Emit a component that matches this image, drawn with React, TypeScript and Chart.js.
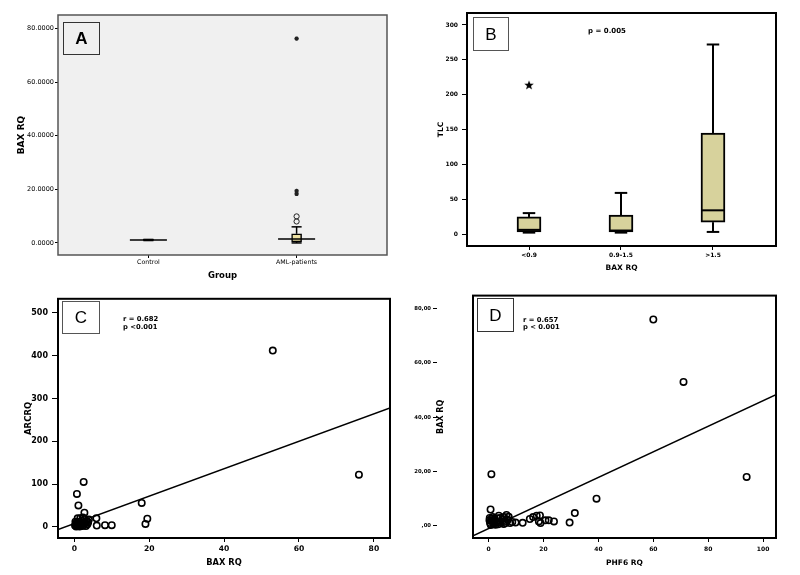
import React, { useEffect, useRef } from 'react';
import { Chart, registerables } from 'chart.js';

Chart.register(...registerables);

const FAMILY = "'DejaVu Sans', 'Liberation Sans', sans-serif";
const LETTER_FAMILY = "'Liberation Sans', Arial, sans-serif";

// ---------- Panel A: BAX RQ by group ----------
const groupLabels = ['Control', 'AML-patients'];
const groupLow = [0.9, 0.0];
const groupQ1 = [1.0, 0.4];
const groupMedian = [1.1, 1.5];
const groupQ3 = [1.3, 3.4];
const groupHigh = [1.3, 6.0];
const groupCircleOutliers: number[][] = [[], [8.0, 9.9]];
const groupStarOutliers: number[][] = [[], [18.3, 19.4, 76.2]];
const groupYTicks = [0, 20, 40, 60, 80];

// ---------- Panel B: TLC by BAX RQ class ----------
const tlcGroups = ['<0.9', '0.9-1.5', '>1.5'];
const tlcLow = [2, 2, 3];
const tlcQ1 = [3, 3, 17];
const tlcMedian = [6, 5, 34];
const tlcQ3 = [24.5, 27, 145];
const tlcHigh = [30, 59, 272];
const tlcStarOutliers: number[][] = [[214], [], []];
const tlcYTicks = [0, 50, 100, 150, 200, 250, 300];

// ---------- Panel C: ARC RQ vs BAX RQ ----------
const arcBaxRq = [53, 76, 18, 19, 19.5, 5.9, 6.0, 8.2, 10, 2.5, 0.7, 1.1, 2.7, 0.9, 0.2, 0.4, 0.5, 0.6, 0.8, 1.0, 1.1, 1.3, 1.4, 1.5, 1.7, 1.9, 2.0, 2.2, 2.4, 2.6, 2.8, 3.0, 3.1, 3.3, 3.5, 3.7, 1.6, 2.3, 0.3, 3.9];
const arcRq = [412, 122, 56, 7, 19, 20, 3, 4, 4, 105, 77, 50, 33, 20, 3, 6, 1, 10, 4, 2, 8, 5, 1, 12, 3, 7, 15, 2, 10, 5, 18, 9, 2, 14, 6, 11, 20, 22, 12, 17];
const arcFitX = [-4.35, 84.3];
const arcFitY = [-6, 278];
const arcXTicks = [0, 20, 40, 60, 80];
const arcYTicks = [0, 100, 200, 300, 400, 500];

// ---------- Panel D: BAX RQ vs PHF6 RQ ----------
const phf6Rq = [60, 71, 94, 1.0, 39.3, 31.4, 29.5, 0.7, 15, 16.2, 17.5, 18.7, 18.3, 18.9, 20.7, 21.9, 23.8, 12.4, 0.5, 1.0, 1.5, 1.9, 2.5, 3.2, 3.7, 4.4, 5.0, 5.6, 6.2, 6.5, 7.0, 7.8, 8.6, 9.8, 0.3, 0.8, 1.2, 2.2, 2.8, 3.5, 4.2, 5.5, 6.0, 7.3, 0.4, 1.6];
const phf6BaxRq = [76, 53, 18, 19, 10, 4.7, 1.2, 6, 2.5, 3.2, 3.7, 3.8, 1.6, 1.0, 2.0, 2.0, 1.6, 1.1, 1.0, 2.5, 3.2, 1.6, 0.4, 2.8, 3.7, 1.2, 2.5, 3.2, 1.0, 4.0, 2.2, 1.0, 1.4, 1.2, 2.0, 0.3, 1.8, 2.6, 1.2, 0.6, 2.9, 0.7, 1.8, 3.3, 2.9, 0.8];
const phf6FitX = [-5.7, 104.7];
const phf6FitY = [-3.7, 48.3];
const phf6XTicks = [0, 20, 40, 60, 80, 100];
const phf6YTicks = [0, 20, 40, 60, 80];

// ---------- helpers ----------
type Note = { text: string; x: number; y: number; align: CanvasTextAlign; font: string };

function makeStarImage(size: number) {
  const c = document.createElement('canvas');
  c.width = size;
  c.height = size;
  const ctx = c.getContext('2d') as CanvasRenderingContext2D;
  const cx = size / 2, cy = size / 2 + 0.4, R = size / 2, r = R * 0.42;
  ctx.beginPath();
  for (let k = 0; k < 10; k++) {
    const ang = -Math.PI / 2 + (k * Math.PI) / 5;
    const rr = k % 2 === 0 ? R : r;
    const px = cx + rr * Math.cos(ang), py = cy + rr * Math.sin(ang);
    if (k === 0) ctx.moveTo(px, py); else ctx.lineTo(px, py);
  }
  ctx.closePath();
  ctx.fillStyle = '#000';
  ctx.fill();
  return c;
}

function decorPlugin(o: {
  bg: string | null;
  frameColor: string;
  frameWidth: number;
  box: [number, number, number, number];
  boxColor: string;
  letter: string;
  letterFont: string;
  notes: Note[];
}) {
  return {
    id: 'decor',
    beforeDraw(chart: any) {
      if (!o.bg) return;
      const { ctx, chartArea: a } = chart;
      ctx.save();
      ctx.fillStyle = o.bg;
      ctx.fillRect(a.left, a.top, a.right - a.left, a.bottom - a.top);
      ctx.restore();
    },
    afterDraw(chart: any) {
      const { ctx, chartArea: a } = chart;
      ctx.save();
      ctx.strokeStyle = o.frameColor;
      ctx.lineWidth = o.frameWidth;
      ctx.strokeRect(a.left, a.top, a.right - a.left, a.bottom - a.top);
      const [bx, by, bw, bh] = o.box;
      ctx.lineWidth = 1;
      ctx.strokeStyle = o.boxColor;
      ctx.strokeRect(bx + 0.5, by + 0.5, bw, bh);
      ctx.fillStyle = '#000';
      ctx.font = o.letterFont;
      ctx.textAlign = 'center';
      ctx.textBaseline = 'middle';
      ctx.fillText(o.letter, bx + bw / 2 + 0.5, by + bh / 2 + 1.5);
      for (const n of o.notes) {
        ctx.font = n.font;
        ctx.textAlign = n.align;
        ctx.fillText(n.text, n.x, n.y);
      }
      ctx.restore();
    },
  };
}

function linAxis(p: {
  pos: 'left' | 'bottom';
  min: number;
  max: number;
  ticks: number[];
  fmt: (v: number) => string;
  size: number;
  tickFont: any;
  tickLen: number;
  pad: number;
  title?: string;
  titleFont?: any;
  titlePad?: any;
  weight?: number;
}) {
  return {
    type: 'linear',
    position: p.pos,
    min: p.min,
    max: p.max,
    offset: false,
    weight: p.weight ?? 0,
    afterFit: (s: any) => {
      if (p.pos === 'left') s.width = p.size;
      else s.height = p.size;
    },
    afterBuildTicks: (s: any) => {
      s.ticks = p.ticks.map((v) => ({ value: v }));
    },
    ticks: {
      callback: (v: any) => p.fmt(Number(v)),
      font: p.tickFont,
      color: '#000',
      padding: p.pad,
      autoSkip: false,
      maxRotation: 0,
      minRotation: 0,
    },
    grid: {
      display: true,
      drawOnChartArea: false,
      drawTicks: true,
      tickLength: p.tickLen,
      color: '#000',
      tickColor: '#000',
      offset: false,
    },
    border: { display: false },
    title: p.title
      ? { display: true, text: p.title, font: p.titleFont, color: '#000', padding: p.titlePad }
      : { display: false },
  };
}

function boxDatasets(
  lo: number[], q1: number[], med: number[], q3: number[], hi: number[],
  s: { boxPx: number; medHalf: number; capHalf: number; fill: string; lw: number }
) {
  const seg = (a: { x: number; y: number }, b: { x: number; y: number }) => ({
    type: 'scatter',
    showLine: true,
    data: [a, b],
    borderColor: '#000',
    backgroundColor: '#000',
    borderWidth: s.lw,
    pointRadius: 0,
    order: 1,
    yAxisID: 'y',
    xAxisID: 'x',
  });
  const ds: any[] = [
    {
      type: 'bar',
      data: q1.map((v, i) => ({ x: i, y: [v, q3[i]] })),
      backgroundColor: s.fill,
      borderColor: '#000',
      borderWidth: s.lw,
      borderSkipped: false,
      barThickness: s.boxPx,
      order: 3,
      yAxisID: 'y',
      xAxisID: 'x',
    },
  ];
  q1.forEach((_, i) => {
    ds.push(seg({ x: i, y: lo[i] }, { x: i, y: q1[i] }));
    ds.push(seg({ x: i, y: q3[i] }, { x: i, y: hi[i] }));
    ds.push(seg({ x: i - s.capHalf, y: lo[i] }, { x: i + s.capHalf, y: lo[i] }));
    ds.push(seg({ x: i - s.capHalf, y: hi[i] }, { x: i + s.capHalf, y: hi[i] }));
    ds.push(seg({ x: i - s.medHalf, y: med[i] }, { x: i + s.medHalf, y: med[i] }));
  });
  return ds;
}

function outlierDataset(groups: number[][], style: any, radius: number, lw: number, color = '#000') {
  const data: { x: number; y: number }[] = [];
  groups.forEach((vals, i) => vals.forEach((v) => data.push({ x: i, y: v })));
  return {
    type: 'scatter',
    data,
    pointStyle: style,
    pointRadius: radius,
    borderWidth: lw,
    borderColor: color,
    backgroundColor: 'rgba(0,0,0,0)',
    order: 0,
    yAxisID: 'y',
    xAxisID: 'x',
  };
}

function scatterDataset(xs: number[], ys: number[]) {
  return {
    type: 'scatter',
    data: xs.map((x, i) => ({ x, y: ys[i] })),
    pointStyle: 'circle',
    pointRadius: 3.2,
    borderWidth: 1.6,
    borderColor: '#000',
    backgroundColor: 'rgba(0,0,0,0)',
    order: 0,
    yAxisID: 'y',
    xAxisID: 'x',
  };
}

function fitDataset(xs: number[], ys: number[]) {
  return {
    type: 'scatter',
    showLine: true,
    data: xs.map((x, i) => ({ x, y: ys[i] })),
    borderColor: '#000',
    backgroundColor: '#000',
    borderWidth: 1.5,
    pointRadius: 0,
    order: 1,
    yAxisID: 'y',
    xAxisID: 'x',
  };
}

const baseOptions = (padding: any) => ({
  responsive: false,
  animation: false,
  devicePixelRatio: 1,
  events: [],
  layout: { padding },
  plugins: { legend: { display: false }, tooltip: { enabled: false }, title: { display: false } },
});

const font = (size: number, weight: string = 'normal', lineHeight = 1.2) => ({ family: FAMILY, size, weight, lineHeight });

// ---------- configs ----------
function configA() {
  return {
    type: 'scatter',
    data: {
      datasets: [
        ...boxDatasets(groupLow, groupQ1, groupMedian, groupQ3, groupHigh, {
          boxPx: 10, medHalf: 0.125, capHalf: 0.034, fill: '#ece0a2', lw: 1.5,
        }),
        outlierDataset(groupCircleOutliers, 'circle', 2.6, 1, '#222'),
        outlierDataset(groupStarOutliers, 'star', 2.2, 1.3, '#222'),
      ],
    },
    options: {
      ...baseOptions({ left: 0, top: 15, right: 13, bottom: 0 }),
      scales: {
        x: linAxis({
          pos: 'bottom', min: -0.61, max: 1.61, ticks: [0, 1], fmt: (v) => groupLabels[v] ?? '',
          size: 35, tickFont: font(6.3), tickLen: 3, pad: 1,
          title: 'Group', titleFont: font(8.5, 'bold'), titlePad: { top: 0, bottom: 9 },
        }),
        y: linAxis({
          pos: 'left', min: -4.5, max: 85, ticks: groupYTicks, fmt: (v) => v.toFixed(4),
          size: 58, tickFont: font(6.5), tickLen: 3, pad: 1,
          title: 'BAX RQ', titleFont: font(9, 'bold'), titlePad: { top: 16, bottom: 0 },
        }),
      },
    },
    plugins: [
      decorPlugin({
        bg: '#f0f0f0', frameColor: '#555', frameWidth: 1.5, box: [63, 22, 36, 32], boxColor: '#333',
        letter: 'A', letterFont: `bold 17px ${LETTER_FAMILY}`, notes: [],
      }),
    ],
  };
}

function configB() {
  return {
    type: 'scatter',
    data: {
      datasets: [
        ...boxDatasets(tlcLow, tlcQ1, tlcMedian, tlcQ3, tlcHigh, {
          boxPx: 24, medHalf: 0.13, capHalf: 0.068, fill: '#d7d29c', lw: 2,
        }),
        outlierDataset(tlcStarOutliers, makeStarImage(10), 5, 0),
      ],
    },
    options: {
      ...baseOptions({ left: 0, top: 13, right: 24, bottom: 0 }),
      scales: {
        x: linAxis({
          pos: 'bottom', min: -0.674, max: 2.685, ticks: [0, 1, 2], fmt: (v) => tlcGroups[v] ?? '',
          size: 44, tickFont: font(6, 'bold'), tickLen: 4, pad: 2,
          title: 'BAX RQ', titleFont: font(7.5, 'bold'), titlePad: { top: 0, bottom: 17 },
        }),
        y: linAxis({
          pos: 'left', min: -17.2, max: 317.2, ticks: tlcYTicks, fmt: (v) => String(v),
          size: 67, tickFont: font(6, 'bold'), tickLen: 5, pad: 4,
          title: 'TLC', titleFont: font(7.5, 'bold'), titlePad: { top: 37, bottom: 0 },
        }),
      },
    },
    plugins: [
      decorPlugin({
        bg: null, frameColor: '#000', frameWidth: 2, box: [73, 17, 35, 33], boxColor: '#555',
        letter: 'B', letterFont: `17px ${LETTER_FAMILY}`,
        notes: [{ text: 'p = 0.005', x: 207, y: 31, align: 'center', font: `bold 7px ${FAMILY}` }],
      }),
    ],
  };
}

function configC() {
  return {
    type: 'scatter',
    data: { datasets: [fitDataset(arcFitX, arcFitY), scatterDataset(arcBaxRq, arcRq)] },
    options: {
      ...baseOptions({ left: 0, top: 5, right: 10, bottom: 0 }),
      scales: {
        x: linAxis({
          pos: 'bottom', min: -4.35, max: 84.3, ticks: arcXTicks, fmt: (v) => String(v),
          size: 37, tickFont: font(7.6, 'bold'), tickLen: 4, pad: 2,
          title: 'BAX RQ', titleFont: font(8.3, 'bold'), titlePad: { top: 0, bottom: 7 },
        }),
        y: linAxis({
          pos: 'left', min: -26, max: 532.9, ticks: arcYTicks, fmt: (v) => String(v),
          size: 58, tickFont: font(8, 'bold'), tickLen: 6, pad: 4,
          title: 'ARCRQ', titleFont: font(8.5, 'bold'), titlePad: { top: 24, bottom: 0 },
        }),
      },
    },
    plugins: [
      decorPlugin({
        bg: null, frameColor: '#000', frameWidth: 2, box: [62, 11, 37, 32], boxColor: '#555',
        letter: 'C', letterFont: `17px ${LETTER_FAMILY}`,
        notes: [
          { text: 'r = 0.682', x: 123, y: 29.5, align: 'left', font: `bold 6.8px ${FAMILY}` },
          { text: 'p <0.001', x: 123, y: 37.5, align: 'left', font: `bold 6.8px ${FAMILY}` },
        ],
      }),
    ],
  };
}

function configD() {
  const fmtComma = (v: number) => (v === 0 ? ',00' : v.toFixed(2).replace('.', ','));
  return {
    type: 'scatter',
    data: { datasets: [fitDataset(phf6FitX, phf6FitY), scatterDataset(phf6Rq, phf6BaxRq)] },
    options: {
      ...baseOptions({ left: 0, top: 5, right: 24, bottom: 0 }),
      scales: {
        x: linAxis({
          pos: 'bottom', min: -5.7, max: 104.7, ticks: phf6XTicks, fmt: (v) => String(v),
          size: 37, tickFont: font(6, 'bold'), tickLen: 4, pad: 4,
          title: 'PHF6 RQ', titleFont: font(7.5, 'bold'), titlePad: { top: 0, bottom: 7.5 },
        }),
        y: linAxis({
          pos: 'left', min: -4.5, max: 84.8, ticks: phf6YTicks, fmt: fmtComma,
          size: 37, tickFont: font(5.3, 'bold'), tickLen: 4, pad: 2, weight: 1,
        }),
        ySpacer: {
          type: 'linear',
          position: 'left',
          min: 0,
          max: 1,
          weight: 0,
          afterFit: (s: any) => { s.width = 36; },
          ticks: { display: false },
          grid: { display: false },
          border: { display: false },
          title: { display: true, text: 'BAX RQ', color: '#000', font: font(8, 'bold', 1), padding: { top: 0, bottom: 0 } },
        },
      },
    },
    plugins: [
      decorPlugin({
        bg: null, frameColor: '#000', frameWidth: 2, box: [77, 8, 36, 33], boxColor: '#333',
        letter: 'D', letterFont: `17px ${LETTER_FAMILY}`,
        notes: [
          { text: 'r = 0.657', x: 123, y: 30, align: 'left', font: `bold 6.8px ${FAMILY}` },
          { text: 'p < 0.001', x: 123, y: 37.5, align: 'left', font: `bold 6.8px ${FAMILY}` },
        ],
      }),
    ],
  };
}

function Panel(props: { left: number; top: number; width: number; height: number; make: () => any }) {
  const ref = useRef<HTMLCanvasElement>(null);
  useEffect(() => {
    const chart = new Chart(ref.current as HTMLCanvasElement, props.make());
    return () => chart.destroy();
  }, []);
  return (
    <canvas
      ref={ref}
      width={props.width}
      height={props.height}
      style={{ position: 'absolute', left: props.left, top: props.top, width: props.width, height: props.height }}
    />
  );
}

export default function App() {
  return (
    <div style={{ position: 'absolute', left: 0, top: 0, width: 800, height: 575, background: '#fff', overflow: 'hidden' }}>
      <Panel left={0} top={0} width={400} height={290} make={configA} />
      <Panel left={400} top={0} width={400} height={290} make={configB} />
      <Panel left={0} top={290} width={400} height={285} make={configC} />
      <Panel left={400} top={290} width={400} height={285} make={configD} />
    </div>
  );
}
